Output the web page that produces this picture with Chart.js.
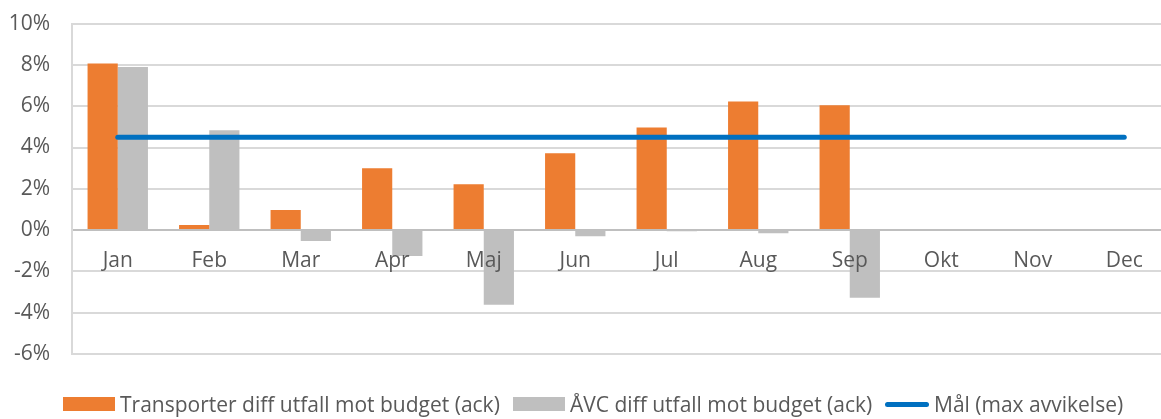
<!DOCTYPE html>
<html>
<head>
<meta charset="utf-8">
<script src="https://cdn.jsdelivr.net/npm/chart.js@4"></script>
<style>
  html, body { margin: 0; padding: 0; background: #fff; }
  #wrap { position: relative; width: 1161px; height: 419px; overflow: hidden; }
  #chart { position: absolute; left: 0; top: -11px; }
  #legend { position: absolute; left: 0; top: 392px; width: 1161px; height: 26px;
            font-family: 'Open Sans', sans-serif; font-size: 21px; color: #595959; }
  .item { position: absolute; top: 0; white-space: nowrap; line-height: 24px; }
  .sw { position: absolute; }
</style>
</head>
<body>
<div id="wrap">
  <canvas id="chart" width="1170" height="430"></canvas>
  <div id="legend"></div>
</div>
<script>
// månader
var months = ['Jan', 'Feb', 'Mar', 'Apr', 'Maj', 'Jun', 'Jul', 'Aug', 'Sep', 'Okt', 'Nov', 'Dec'];

// värden i procent
var transporter = [8.07, 0.25, 0.97, 3.0, 2.22, 3.72, 4.97, 6.23, 6.04, null, null, null];
var avc = [7.9, 4.83, -0.53, -1.25, -3.62, -0.3, -0.05, -0.15, -3.28, null, null, null];
var mal = [4.5, 4.5, 4.5, 4.5, 4.5, 4.5, 4.5, 4.5, 4.5, 4.5, 4.5, 4.5];

var yTicks = [-6, -4, -2, 0, 2, 4, 6, 8, 10];

var ctx = document.getElementById('chart').getContext('2d');
var chart = new Chart(ctx, {
    type: 'bar',
    data: {
        labels: months,
        datasets: [
            {
                label: 'Transporter diff utfall mot budget (ack)',
                data: transporter,
                backgroundColor: '#ED7D31',
                borderWidth: 0,
                order: 2
            },
            {
                label: 'ÅVC diff utfall mot budget (ack)',
                data: avc,
                backgroundColor: '#BFBFBF',
                borderWidth: 0,
                order: 2
            },
            {
                type: 'line',
                label: 'Mål (max avvikelse)',
                data: mal,
                borderColor: '#0070C0',
                backgroundColor: '#0070C0',
                borderWidth: 5,
                borderCapStyle: 'round',
                pointRadius: 0,
                order: 1
            }
        ]
    },
    options: {
        responsive: false,
        animation: false,
        layout: { padding: { top: 0, right: 0, left: 0, bottom: 65 } },
        datasets: {
            bar: { categoryPercentage: 0.66, barPercentage: 1.0 }
        },
        plugins: {
            tooltip: { enabled: false },
            legend: { display: false }
        },
        scales: {
            x: {
                position: { y: 0 },
                grid: { display: false, drawTicks: false },
                border: { color: '#BFBFBF', width: 2 },
                ticks: {
                    z: 1, // etiketterna ritas ovanpå staplarna
                    font: { family: 'Open Sans', size: 21 },
                    color: '#595959',
                    padding: 18
                }
            },
            y: {
                min: -6,
                max: 10,
                afterBuildTicks: function (s) {
                    s.ticks = yTicks.map(function (v) { return { value: v }; });
                },
                afterFit: function (s) { s.width = 72; },
                grid: { color: '#D9D9D9', lineWidth: 2, drawTicks: false },
                border: { color: '#D9D9D9', width: 2 },
                ticks: {
                    font: { family: 'Open Sans', size: 21 },
                    color: '#595959',
                    padding: 22,
                    callback: function (v) { return v + '%'; }
                }
            }
        }
    }
});

// egen förklaring under diagrammet
var legendPos = [63, 513, 885];
var legend = document.getElementById('legend');
chart.data.datasets.forEach(function (ds, i) {
    var item = document.createElement('div');
    item.className = 'item';
    item.style.left = legendPos[i] + 'px';
    var sw = document.createElement('span');
    sw.className = 'sw';
    if (ds.type === 'line') {
        sw.style.cssText = 'left:0;top:10px;width:44px;height:5px;border-radius:3px;background:' + ds.borderColor;
        item.style.paddingLeft = '49px';
    } else {
        sw.style.cssText = 'left:0;top:5px;width:52px;height:14px;background:' + ds.backgroundColor;
        item.style.paddingLeft = '57px';
    }
    item.appendChild(sw);
    item.appendChild(document.createTextNode(ds.label));
    legend.appendChild(item);
});
</script>
</body>
</html>
